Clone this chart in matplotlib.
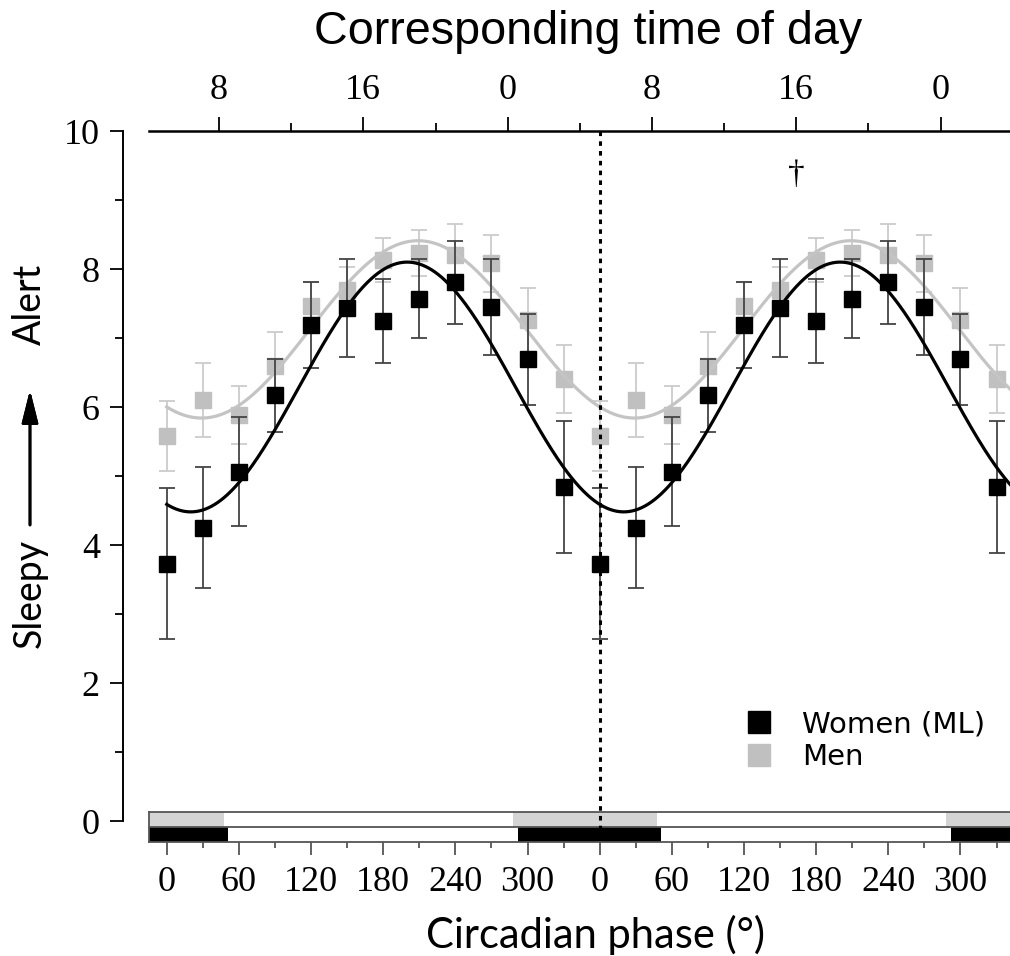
import numpy as np
import matplotlib
matplotlib.use("Agg")
import matplotlib.pyplot as plt
from matplotlib.lines import Line2D

# circadian phase bins (deg), plotted twice (0-360 and 360-720)
phase = [0, 30, 60, 90, 120, 150, 180, 210, 240, 270, 300, 330]

women_mean = [3.73, 4.25, 5.06, 6.17, 7.19, 7.44, 7.25, 7.57, 7.81, 7.45, 6.69, 4.84]
women_err = [1.09, 0.88, 0.79, 0.53, 0.62, 0.71, 0.61, 0.57, 0.60, 0.69, 0.66, 0.96]
men_mean = [5.58, 6.10, 5.88, 6.60, 7.46, 7.70, 8.13, 8.23, 8.20, 8.08, 7.26, 6.41]
men_err = [0.51, 0.54, 0.42, 0.48, 0.35, 0.33, 0.32, 0.33, 0.45, 0.42, 0.47, 0.49]

# cosinor fits: mesor, amplitude, acrophase (deg)
women_fit = [6.29, 1.81, 200]
men_fit = [7.125, 1.285, 209]

# sleep episodes (onset, offset) in circadian phase
men_sleep = [288, 48]
women_sleep = [292, 51]

time_labels = ["8", "16", "0", "8", "16", "0"]
time_phase = [43.5, 163.5, 283.5, 403.5, 523.5, 643.5]

W, H = 1010, 956
XMIN, XMAX = -14.5, 701.2

fig = plt.figure(figsize=(W / 100, H / 100), dpi=100)

def rect(x0, y0, x1, y1):
    # pixel box -> figure fraction
    return [x0 / W, 1 - y1 / H, (x1 - x0) / W, (y1 - y0) / H]

ax = fig.add_axes(rect(149.3, 131, 1010, 821))
axb = fig.add_axes(rect(149.3, 812, 1010, 842))
ax.set_zorder(2)
axb.set_zorder(1)
ax.patch.set_visible(False)

serif = "Liberation Serif"

# --- main panel
ax.set_xlim(XMIN, XMAX)
ax.set_ylim(0, 10)
for s in ["right", "bottom"]:
    ax.spines[s].set_visible(False)
ax.spines["left"].set_position(("outward", 19))
ax.spines["left"].set_linewidth(1.4)
ax.spines["top"].set_linewidth(1.8)

ax.set_yticks([0, 2, 4, 6, 8, 10])
ax.set_yticks([1, 3, 5, 7, 9], minor=True)
ax.tick_params(axis="y", which="major", length=9.5, width=1.3, pad=7,
               labelsize=26)
ax.tick_params(axis="y", which="minor", length=5.5, width=1.3)
for t in ax.get_yticklabels():
    t.set_fontfamily(serif)

ax.xaxis.tick_top()
ax.set_xticks(time_phase)
ax.set_xticklabels(time_labels)
ax.set_xticks([p + 60 for p in time_phase[:-1]], minor=True)
ax.tick_params(axis="x", which="major", length=10, width=1.3, pad=7,
               labelsize=26, top=True, bottom=False)
ax.tick_params(axis="x", which="minor", length=5.5, width=1.3,
               top=True, bottom=False)
for t in ax.get_xticklabels():
    t.set_fontfamily(serif)

x2 = np.concatenate([phase, np.array(phase) + 360])
xx = np.linspace(0, 705, 800)

def cosinor(fit):
    mesor, amp, acro = fit
    return mesor + amp * np.cos(np.radians(xx - acro))

ax.errorbar(x2, men_mean * 2, yerr=men_err * 2, fmt="s", ms=11,
            color="#c0c0c0", mec="#c0c0c0", ecolor="#cccccc",
            elinewidth=1.3, capsize=6, capthick=1.3, zorder=2)
ax.plot(xx, cosinor(men_fit), color="#c4c4c4", lw=2.3, zorder=3)
ax.errorbar(x2, women_mean * 2, yerr=women_err * 2, fmt="s", ms=11,
            color="black", mec="black", ecolor="#444444",
            elinewidth=1.3, capsize=6, capthick=1.3, zorder=4)
ax.plot(xx, cosinor(women_fit), color="black", lw=2.3, zorder=5)

ax.plot([360, 360], [10, -0.305], color="black", lw=2.2,
        dashes=(1.5, 1.7), clip_on=False, zorder=6)

ax.text(523.5, 9.36, "\u2020", ha="center", va="center", fontsize=24,
        family=serif)

handles = [
    Line2D([], [], marker="s", ls="none", ms=16, color="black"),
    Line2D([], [], marker="s", ls="none", ms=16, color="#c0c0c0"),
]
fig.legend(handles, ["Women (ML)", "Men"], loc="upper left",
           bbox_to_anchor=(744.4 / W, 1 - 710 / H), frameon=False,
           fontsize=21, handlelength=1.0, handletextpad=0.97,
           labelspacing=0.17, borderpad=0, borderaxespad=0)

# --- sleep bars
axb.set_xlim(XMIN, XMAX)
axb.set_ylim(0, 2)
for cyc in [-1, 0, 1]:
    on, off = men_sleep
    axb.broken_barh([(on + 360 * cyc, off + 360 - on)], (1, 1),
                    facecolor="#d4d4d4", edgecolor="none")
    on, off = women_sleep
    axb.broken_barh([(on + 360 * cyc, off + 360 - on)], (0, 1),
                    facecolor="black", edgecolor="none")
axb.axhline(1, color="#555555", lw=1.3)
axb.spines["right"].set_visible(False)
for s in ["left", "top", "bottom"]:
    axb.spines[s].set_color("#555555")
    axb.spines[s].set_linewidth(1.3)
axb.set_yticks([])

bt = np.arange(0, 720, 60)
axb.set_xticks(bt)
axb.set_xticklabels([str(v % 360) for v in bt])
axb.set_xticks(np.arange(30, 720, 60), minor=True)
axb.tick_params(axis="x", which="major", length=9.5, width=1.3, pad=8,
                labelsize=26, color="#555555")
axb.tick_params(axis="x", which="minor", length=4.5, width=1.3,
                color="#555555")
for t in axb.get_xticklabels():
    t.set_fontfamily(serif)

# --- labels
fig.text(588 / W, 1 - 32 / H, "Corresponding time of day", ha="center",
         va="center", fontsize=33.7, family="Liberation Sans")
fig.text(595 / W, 1 - 935 / H, "Circadian phase (\u00b0)", ha="center",
         va="center", fontsize=30, family="Lato")
fig.text(30 / W, 1 - 593 / H, "Sleepy", rotation=90, ha="center",
         va="center", fontsize=27, family="Lato")
fig.text(30 / W, 1 - 304 / H, "Alert", rotation=90, ha="center",
         va="center", fontsize=27, family="Lato")
fig.add_artist(plt.annotate(
    "", xy=(30 / W, 1 - 390 / H), xytext=(30 / W, 1 - 525 / H),
    xycoords="figure fraction",
    arrowprops=dict(arrowstyle="-|>,head_width=0.5,head_length=2.0",
                    color="black", lw=2.0, shrinkA=0, shrinkB=0)))

fig.savefig("out.png", dpi=100)
